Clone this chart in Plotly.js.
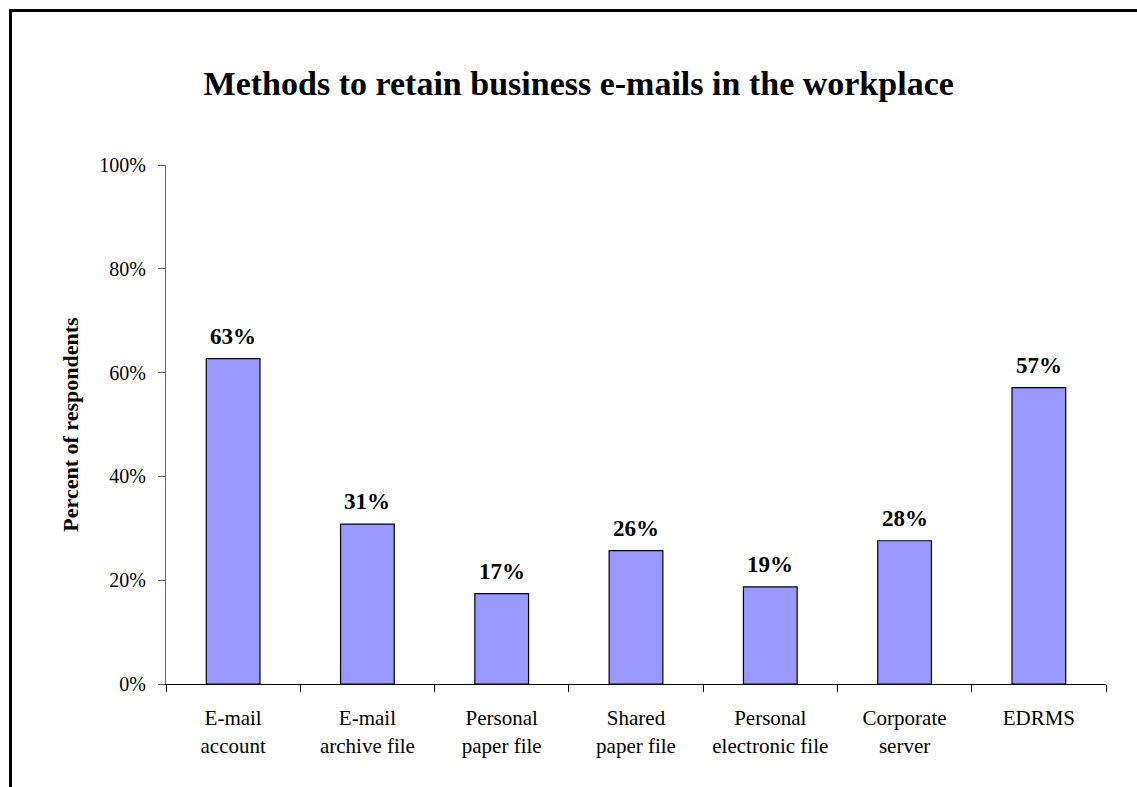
<!DOCTYPE html>
<html>
<head>
<meta charset="utf-8">
<script src="https://cdn.plot.ly/plotly-3.0.1.min.js"></script>
<style>
  html, body { margin: 0; padding: 0; background: #fff; }
  #wrap { position: relative; width: 1137px; height: 787px; }
  #chart { width: 1137px; height: 787px; }
  #frame { position: absolute; left: 9px; top: 9px; width: 1200px; height: 900px;
           border-left: 3px solid #000; border-top: 3px solid #000; pointer-events: none; }
</style>
</head>
<body>
<div id="wrap">
  <div id="chart"></div>
  <div id="frame"></div>
</div>
<script>
const categories = [
  "E-mail<br>account",
  "E-mail<br>archive file",
  "Personal<br>paper file",
  "Shared<br>paper file",
  "Personal<br>electronic file",
  "Corporate<br>server",
  "EDRMS"
];
const percentValues = [62.7, 30.8, 17.4, 25.7, 18.7, 27.6, 57.1];
const yTickValues = [0, 20, 40, 60, 80, 100];
const yTickLabels = ["0%", "20%", "40%", "60%", "80%", "100%"];

const serif = "'Liberation Serif', 'Times New Roman', serif";

const trace = {
  type: "bar",
  x: categories,
  y: percentValues,
  marker: { color: "#9999FF", line: { color: "#000000", width: 1.2 } },
  hoverinfo: "none"
};

const labelAnnotations = categories.map((c, i) => ({
  x: c,
  y: percentValues[i],
  xref: "x",
  yref: "y",
  text: "<b>" + Math.round(percentValues[i]) + "%</b>",
  showarrow: false,
  yanchor: "bottom",
  yshift: 8,
  font: { family: serif, size: 23, color: "#000" }
}));

const layout = {
  width: 1137,
  height: 787,
  margin: { l: 166, r: 31, t: 165, b: 103 },
  paper_bgcolor: "#fff",
  plot_bgcolor: "#fff",
  showlegend: false,
  bargap: 0.6,
  annotations: labelAnnotations,
  title: {
    text: "<b>Methods to retain business e-mails in the workplace</b>",
    font: { family: serif, size: 34, color: "#000" },
    x: 0.509, xref: "container", xanchor: "center",
    y: 0.895, yref: "container", yanchor: "middle"
  },
  xaxis: {
    type: "category",
    tickson: "boundaries",
    ticks: "outside",
    ticklen: 7,
    tickcolor: "#000",
    tickwidth: 1,
    showline: true,
    linecolor: "#000",
    linewidth: 1,
    showgrid: false,
    zeroline: false,
    tickfont: { family: serif, size: 21, color: "#000" },
    ticklabelstandoff: 15,
    fixedrange: true
  },
  yaxis: {
    range: [0, 100],
    tickvals: yTickValues,
    ticktext: yTickLabels,
    ticks: "outside",
    ticklen: 7,
    tickcolor: "#555",
    showline: true,
    linecolor: "#666",
    linewidth: 1,
    showgrid: false,
    zeroline: false,
    tickfont: { family: serif, size: 20, color: "#000" },
    ticklabelstandoff: 8,
    title: {
      text: "<b>Percent of respondents</b>",
      font: { family: serif, size: 22, color: "#000" },
      standoff: 14
    },
    fixedrange: true
  }
};

Plotly.newPlot("chart", [trace], layout, { displayModeBar: false, staticPlot: true });
</script>
</body>
</html>
